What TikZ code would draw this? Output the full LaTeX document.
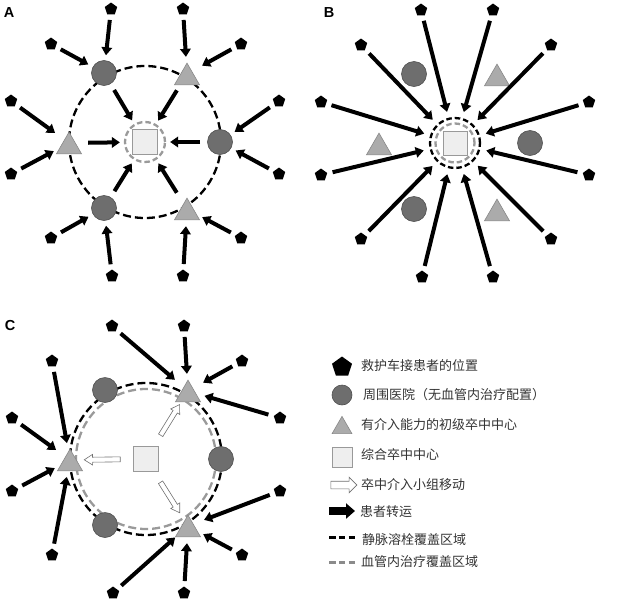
\documentclass[tikz,border=0pt]{standalone}
\usepackage{fontspec}
\newfontfamily\cjk{Noto Sans CJK SC}
\newfontfamily\labfont{Liberation Sans}
\usetikzlibrary{shapes.geometric,shapes.arrows,arrows.meta}
\definecolor{hospfill}{HTML}{6E6E6E}
\definecolor{hospline}{HTML}{505050}
\definecolor{trifill}{HTML}{ABABAB}
\definecolor{triline}{HTML}{888888}
\definecolor{sqfill}{HTML}{EEEEEE}
\definecolor{sqline}{HTML}{999999}
\definecolor{dashgray}{HTML}{9A9A9A}
\definecolor{txtgray}{HTML}{333333}
\definecolor{hollowline}{HTML}{707070}
\tikzset{
  pent/.style={regular polygon, regular polygon sides=5, fill=black, draw=none, inner sep=0pt, minimum size=13pt},
  hospnode/.style={circle, fill=hospfill, draw=hospline, line width=0.6pt, inner sep=0pt, minimum size=25pt},
  triarea/.style={circle, inner sep=0pt, minimum size=24pt},
  trinode/.style={regular polygon, regular polygon sides=3, fill=trifill, draw=triline, line width=0.6pt, inner sep=0pt, minimum size=29pt, yshift=-3.6pt},
  sqnode/.style={rectangle, fill=sqfill, draw=sqline, line width=0.7pt, inner sep=0pt, minimum size=25pt},
  transfer/.style={line width=4pt, -{Triangle[width=10.5pt,length=8pt]}, shorten <=5.5pt, shorten >=5pt},
  bigblack/.style={draw=black, line width=2.3pt, dash pattern=on 8pt off 4pt},
  biggray/.style={draw=dashgray, line width=2.3pt, dash pattern=on 8pt off 4pt},
  ringblack/.style={circle, draw=black, line width=2.3pt, dash pattern=on 5.5pt off 3pt, inner sep=0pt},
  ringgray/.style={circle, draw=dashgray, line width=2.3pt, dash pattern=on 5.5pt off 3pt, inner sep=0pt},
  hollowbase/.style={single arrow, draw=hollowline, fill=white, line width=0.6pt, inner sep=0pt, inner ysep=2.2pt, minimum width=0pt, minimum height=36pt, single arrow head extend=2.8pt, single arrow tip angle=65},
  hollow/.style={hollowbase, sloped, allow upside down},
  paneltag/.style={font=\labfont\bfseries\fontsize{14.5}{16}\selectfont, inner sep=0pt},
  legtext/.style={font=\cjk\fontsize{13}{15}\selectfont, text=txtgray, inner sep=0pt, anchor=west},
}
\def\pentlist{1/-34/-133,2/38/-133,3/-94/-98,4/96/-98,5/-134/-41,6/134/-41,7/-134/32,8/134/32,9/-94/96,10/96/96,11/-33/134,12/38/134}
\def\ringlist{h1/-41/-69,h2/75/0,h3/-41/66}
\def\trilist{t1/42/-68,t2/-76/1,t3/42/67}
\newcommand\pentnodes[1]{%
  \foreach \i/\x/\y in \pentlist {\node[pent] (#1-p\i) at (\x,\y) {};}}
\newcommand\ringnodes[1]{%
  \foreach \n/\x/\y in \ringlist {\node[hospnode] (#1-\n) at (\x,\y) {};}
  \foreach \n/\x/\y in \trilist {\node[triarea] (#1-\n) at (\x,\y) {}; \node[trinode] (#1-\n-s) at (\x,\y) {};}}
\begin{document}
\begin{tikzpicture}[x=1pt,y=-1pt]
\useasboundingbox (0,0) rectangle (640,600);
% ---------- Panel A ----------
\node[paneltag] (tagA) at (9,13) {A};
\begin{scope}[shift={(145,142)}]
  \draw[bigblack] (0,0) circle[radius=76pt];
  \node[sqnode] (A-sq) at (0,0) {};
  \node[ringgray, minimum size=40pt] (A-ring) at (0,0) {};
  \pentnodes{A}
  \ringnodes{A}
  \foreach \p/\n in {1/h1,3/h1,2/t1,4/t1,5/t2,7/t2,6/h2,8/h2,9/h3,11/h3,10/t3,12/t3}
    \draw[transfer] (A-p\p) -- (A-\n);
  \foreach \n in {h1,t1,h2,t2,h3,t3}
    \draw[transfer, shorten <=7pt, shorten >=4pt] (A-\n) -- (A-ring);
\end{scope}
% ---------- Panel B ----------
\node[paneltag] (tagB) at (329,12.5) {B};
\begin{scope}[shift={(455,143)}]
  \node[sqnode, minimum size=24pt] (B-sq) at (0,0) {};
  \node[ringgray, minimum size=39pt] (B-ringg) at (0,0) {};
  \node[ringblack, minimum size=50pt] (B-ring) at (0,0) {};
  \pentnodes{B}
  \ringnodes{B}
  \foreach \i in {1,...,12}
    \draw[transfer, shorten >=6pt] (B-p\i) -- (B-ring);
\end{scope}
% ---------- Panel C ----------
\node[paneltag] (tagC) at (10,326) {C};
\begin{scope}[shift={(146,459)}]
  \draw[bigblack] (0,0) circle[radius=76pt];
  \draw[biggray] (0,0) circle[radius=70pt];
  \node[sqnode] (C-sq) at (0,0) {};
  \pentnodes{C}
  \ringnodes{C}
  \foreach \p/\n in {1/t1,2/t1,4/t1,6/t1,3/t2,5/t2,7/t2,9/t2,8/t3,10/t3,11/t3,12/t3}
    \draw[transfer] (C-p\p) -- (C-\n);
  \foreach \n in {t1,t2,t3}
    \path (C-sq.center) -- (C-\n.center) node[hollow, pos=0.55] (C-m\n) {};
\end{scope}
% ---------- Legend ----------
\node[pent, minimum size=21pt] (L1) at (342,367) {};
\node[legtext] (L1t) at (361,366) {救护车接患者的位置};
\node[hospnode, minimum size=20pt] (L2) at (342,395) {};
\node[legtext] (L2t) at (363,395) {周围医院（无血管内治疗配置）};
\node[trinode, minimum size=23pt, yshift=0.7pt] (L3) at (342,425) {};
\node[legtext] (L3t) at (361,425) {有介入能力的初级卒中中心};
\node[sqnode, minimum size=20pt] (L4) at (342,457) {};
\node[legtext] (L4t) at (361,455) {综合卒中中心};
\node[hollowbase, minimum height=26pt, inner ysep=3.5pt, single arrow head extend=4pt, single arrow tip angle=90] (L5) at (342,485) {};
\node[legtext] (L5t) at (361,485) {卒中介入小组移动};
\coordinate (L6a) at (329,511);
\coordinate (L6b) at (355,511);
\draw[line width=7.5pt, -{Triangle[width=15pt,length=9pt]}] (L6a) -- (L6b);
\node[legtext] (L6t) at (360,512) {患者转运};
\coordinate (L7a) at (329,537);
\coordinate (L7b) at (355,537);
\draw[line width=3pt, dash pattern=on 6.5pt off 3.25pt] (L7a) -- (L7b);
\node[legtext] (L7t) at (362,540) {静脉溶栓覆盖区域};
\coordinate (L8a) at (329,562);
\coordinate (L8b) at (355,562);
\draw[draw=dashgray!90!black, line width=3pt, dash pattern=on 6.5pt off 3.25pt] (L8a) -- (L8b);
\node[legtext] (L8t) at (361,562) {血管内治疗覆盖区域};
\end{tikzpicture}
\end{document}
